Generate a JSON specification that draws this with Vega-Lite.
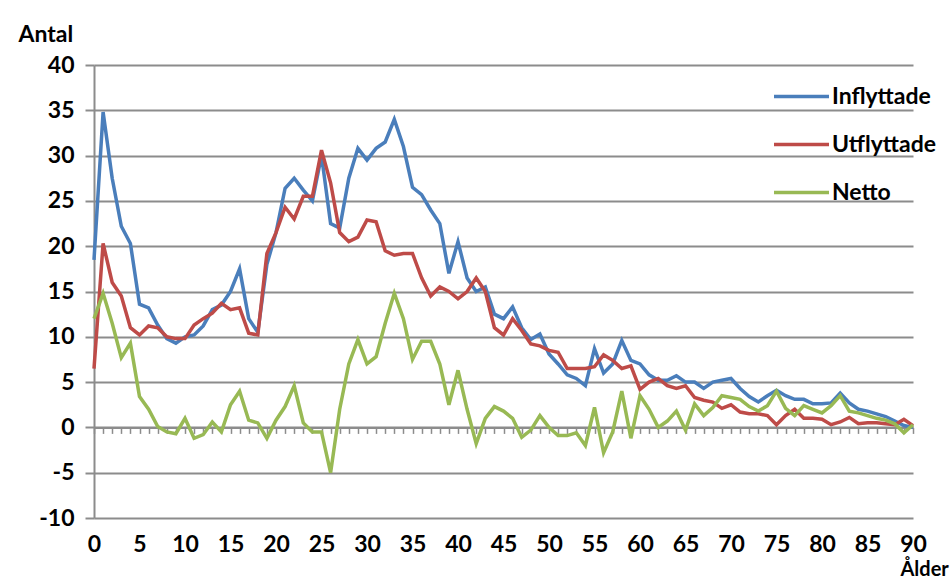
{
  "$schema": "https://vega.github.io/schema/vega-lite/v6.json",
  "width": 819,
  "height": 453,
  "autosize": "none",
  "padding": {"left": 94, "top": 65, "right": 39, "bottom": 64},
  "background": "white",
  "data": {"values": [
    {"a":0,"Inflyttade":18.5,"Utflyttade":6.5,"Netto":12},
    {"a":1,"Inflyttade":34.8,"Utflyttade":20.3,"Netto":14.8},
    {"a":2,"Inflyttade":27.5,"Utflyttade":16,"Netto":11.5},
    {"a":3,"Inflyttade":22.2,"Utflyttade":14.5,"Netto":7.7},
    {"a":4,"Inflyttade":20.3,"Utflyttade":11,"Netto":9.3},
    {"a":5,"Inflyttade":13.6,"Utflyttade":10.2,"Netto":3.4},
    {"a":6,"Inflyttade":13.2,"Utflyttade":11.2,"Netto":2},
    {"a":7,"Inflyttade":11.3,"Utflyttade":11,"Netto":0.1},
    {"a":8,"Inflyttade":9.8,"Utflyttade":10,"Netto":-0.5},
    {"a":9,"Inflyttade":9.3,"Utflyttade":9.8,"Netto":-0.7},
    {"a":10,"Inflyttade":10,"Utflyttade":9.8,"Netto":1},
    {"a":11,"Inflyttade":10.2,"Utflyttade":11.3,"Netto":-1.2},
    {"a":12,"Inflyttade":11.2,"Utflyttade":12,"Netto":-0.8},
    {"a":13,"Inflyttade":13,"Utflyttade":12.6,"Netto":0.6},
    {"a":14,"Inflyttade":13.5,"Utflyttade":13.7,"Netto":-0.5},
    {"a":15,"Inflyttade":15,"Utflyttade":13,"Netto":2.5},
    {"a":16,"Inflyttade":17.5,"Utflyttade":13.2,"Netto":4},
    {"a":17,"Inflyttade":12,"Utflyttade":10.4,"Netto":0.8},
    {"a":18,"Inflyttade":10.5,"Utflyttade":10.2,"Netto":0.5},
    {"a":19,"Inflyttade":18,"Utflyttade":19.2,"Netto":-1.2},
    {"a":20,"Inflyttade":21.5,"Utflyttade":21.5,"Netto":0.8},
    {"a":21,"Inflyttade":26.4,"Utflyttade":24.3,"Netto":2.3},
    {"a":22,"Inflyttade":27.5,"Utflyttade":23,"Netto":4.6},
    {"a":23,"Inflyttade":26.2,"Utflyttade":25.5,"Netto":0.5},
    {"a":24,"Inflyttade":25,"Utflyttade":25.5,"Netto":-0.5},
    {"a":25,"Inflyttade":30,"Utflyttade":30.6,"Netto":-0.5},
    {"a":26,"Inflyttade":22.5,"Utflyttade":27,"Netto":-5},
    {"a":27,"Inflyttade":22,"Utflyttade":21.5,"Netto":2},
    {"a":28,"Inflyttade":27.5,"Utflyttade":20.5,"Netto":7},
    {"a":29,"Inflyttade":30.8,"Utflyttade":21,"Netto":9.7},
    {"a":30,"Inflyttade":29.5,"Utflyttade":22.9,"Netto":7},
    {"a":31,"Inflyttade":30.8,"Utflyttade":22.7,"Netto":7.8},
    {"a":32,"Inflyttade":31.5,"Utflyttade":19.5,"Netto":11.5},
    {"a":33,"Inflyttade":34,"Utflyttade":19,"Netto":14.8},
    {"a":34,"Inflyttade":31,"Utflyttade":19.2,"Netto":12},
    {"a":35,"Inflyttade":26.5,"Utflyttade":19.2,"Netto":7.5},
    {"a":36,"Inflyttade":25.7,"Utflyttade":16.5,"Netto":9.5},
    {"a":37,"Inflyttade":24,"Utflyttade":14.5,"Netto":9.5},
    {"a":38,"Inflyttade":22.5,"Utflyttade":15.5,"Netto":7},
    {"a":39,"Inflyttade":17,"Utflyttade":15,"Netto":2.5},
    {"a":40,"Inflyttade":20.5,"Utflyttade":14.2,"Netto":6.3},
    {"a":41,"Inflyttade":16.5,"Utflyttade":15,"Netto":2},
    {"a":42,"Inflyttade":15,"Utflyttade":16.5,"Netto":-1.8},
    {"a":43,"Inflyttade":15.5,"Utflyttade":15,"Netto":1},
    {"a":44,"Inflyttade":12.5,"Utflyttade":11,"Netto":2.3},
    {"a":45,"Inflyttade":12,"Utflyttade":10.2,"Netto":1.8},
    {"a":46,"Inflyttade":13.3,"Utflyttade":12,"Netto":1},
    {"a":47,"Inflyttade":11,"Utflyttade":10.7,"Netto":-1.1},
    {"a":48,"Inflyttade":9.7,"Utflyttade":9.2,"Netto":-0.3},
    {"a":49,"Inflyttade":10.3,"Utflyttade":9,"Netto":1.3},
    {"a":50,"Inflyttade":8.1,"Utflyttade":8.5,"Netto":0},
    {"a":51,"Inflyttade":7,"Utflyttade":8.3,"Netto":-0.9},
    {"a":52,"Inflyttade":5.8,"Utflyttade":6.5,"Netto":-0.9},
    {"a":53,"Inflyttade":5.4,"Utflyttade":6.5,"Netto":-0.6},
    {"a":54,"Inflyttade":4.6,"Utflyttade":6.5,"Netto":-2},
    {"a":55,"Inflyttade":8.7,"Utflyttade":6.7,"Netto":2.2},
    {"a":56,"Inflyttade":6,"Utflyttade":8,"Netto":-2.8},
    {"a":57,"Inflyttade":7,"Utflyttade":7.4,"Netto":-0.5},
    {"a":58,"Inflyttade":9.6,"Utflyttade":6.5,"Netto":4},
    {"a":59,"Inflyttade":7.4,"Utflyttade":6.8,"Netto":-1.2},
    {"a":60,"Inflyttade":7,"Utflyttade":4.2,"Netto":3.5},
    {"a":61,"Inflyttade":5.8,"Utflyttade":5,"Netto":2},
    {"a":62,"Inflyttade":5.2,"Utflyttade":5.4,"Netto":0},
    {"a":63,"Inflyttade":5.2,"Utflyttade":4.6,"Netto":0.7},
    {"a":64,"Inflyttade":5.7,"Utflyttade":4.3,"Netto":1.8},
    {"a":65,"Inflyttade":5,"Utflyttade":4.6,"Netto":-0.3},
    {"a":66,"Inflyttade":5,"Utflyttade":3.3,"Netto":2.6},
    {"a":67,"Inflyttade":4.3,"Utflyttade":3,"Netto":1.3},
    {"a":68,"Inflyttade":5,"Utflyttade":2.8,"Netto":2.2},
    {"a":69,"Inflyttade":5.2,"Utflyttade":2.1,"Netto":3.5},
    {"a":70,"Inflyttade":5.4,"Utflyttade":2.5,"Netto":3.3},
    {"a":71,"Inflyttade":4.3,"Utflyttade":1.7,"Netto":3.1},
    {"a":72,"Inflyttade":3.4,"Utflyttade":1.5,"Netto":2.3},
    {"a":73,"Inflyttade":2.8,"Utflyttade":1.5,"Netto":1.8},
    {"a":74,"Inflyttade":3.5,"Utflyttade":1.3,"Netto":2.4},
    {"a":75,"Inflyttade":4.1,"Utflyttade":0.3,"Netto":4},
    {"a":76,"Inflyttade":3.5,"Utflyttade":1.3,"Netto":2.1},
    {"a":77,"Inflyttade":3.1,"Utflyttade":2,"Netto":1.3},
    {"a":78,"Inflyttade":3.1,"Utflyttade":1,"Netto":2.4},
    {"a":79,"Inflyttade":2.6,"Utflyttade":1,"Netto":2},
    {"a":80,"Inflyttade":2.6,"Utflyttade":0.9,"Netto":1.6},
    {"a":81,"Inflyttade":2.7,"Utflyttade":0.3,"Netto":2.4},
    {"a":82,"Inflyttade":3.8,"Utflyttade":0.6,"Netto":3.5},
    {"a":83,"Inflyttade":2.7,"Utflyttade":1.1,"Netto":1.8},
    {"a":84,"Inflyttade":2,"Utflyttade":0.4,"Netto":1.6},
    {"a":85,"Inflyttade":1.8,"Utflyttade":0.5,"Netto":1.3},
    {"a":86,"Inflyttade":1.5,"Utflyttade":0.5,"Netto":1},
    {"a":87,"Inflyttade":1.2,"Utflyttade":0.4,"Netto":0.8},
    {"a":88,"Inflyttade":0.7,"Utflyttade":0.3,"Netto":0.4},
    {"a":89,"Inflyttade":0.2,"Utflyttade":0.9,"Netto":-0.6},
    {"a":90,"Inflyttade":0,"Utflyttade":0.2,"Netto":0.3}
  ]},
  "transform": [{"fold": ["Inflyttade", "Utflyttade", "Netto"], "as": ["serie", "antal"]}],
  "mark": {"type": "line", "strokeWidth": 3.5, "clip": false},
  "encoding": {
    "x": {
      "field": "a", "type": "quantitative",
      "scale": {"domain": [0, 90], "nice": false, "zero": false},
      "axis": {
        "values": [0,1,2,3,4,5,6,7,8,9,10,11,12,13,14,15,16,17,18,19,20,21,22,23,24,25,26,27,28,29,30,31,32,33,34,35,36,37,38,39,40,41,42,43,44,45,46,47,48,49,50,51,52,53,54,55,56,57,58,59,60,61,62,63,64,65,66,67,68,69,70,71,72,73,74,75,76,77,78,79,80,81,82,83,84,85,86,87,88,89,90],
        "offset": -90.6,
        "grid": false,
        "domainColor": "#8c8c8c", "domainWidth": 2,
        "tickColor": "#8c8c8c", "tickWidth": 1.5, "tickSize": 6,
        "labelExpr": "datum.value % 5 === 0 ? datum.label : ''",
        "labelPadding": 100, "labelFontSize": 23, "labelFontWeight": "bold", "labelColor": "#000000",
        "labelFlush": false, "labelOverlap": false, "labelBaseline": "top",
        "title": "Ålder", "titleX": 806, "titleY": 148, "titleAlign": "left", "titleBaseline": "alphabetic",
        "titleFontSize": 20, "titleFontWeight": "bold", "titleColor": "#000000"
      }
    },
    "y": {
      "field": "antal", "type": "quantitative",
      "scale": {"domain": [-10, 40], "nice": false, "zero": false},
      "axis": {
        "values": [-10, -5, 0, 5, 10, 15, 20, 25, 30, 35, 40],
        "labelExpr": "datum.value < 0 ? '-' + abs(datum.value) : datum.label",
        "grid": true, "gridColor": "#8c8c8c", "gridWidth": 2,
        "domainColor": "#8c8c8c", "domainWidth": 2,
        "tickColor": "#8c8c8c", "tickWidth": 2, "tickSize": 9,
        "labelPadding": 11, "labelFontSize": 23, "labelFontWeight": "bold", "labelColor": "#000000",
        "title": "Antal", "titleAngle": 0, "titleX": -76, "titleY": -24, "titleAlign": "left", "titleBaseline": "alphabetic",
        "titleFontSize": 23, "titleFontWeight": "bold", "titleColor": "#000000"
      }
    },
    "color": {
      "field": "serie", "type": "nominal",
      "scale": {"domain": ["Inflyttade", "Utflyttade", "Netto"], "range": ["#4a7ebb", "#be4b48", "#98b954"]},
      "legend": {
        "title": null, "orient": "none", "legendX": 678, "legendY": 2,
        "symbolType": "stroke", "symbolSize": 3025, "symbolStrokeWidth": 3.5,
        "labelFontSize": 23, "labelFontWeight": "bold", "labelColor": "#000000", "labelOffset": 1,
        "rowPadding": 6
      }
    }
  },
  "config": {"view": {"stroke": null}, "font": "Lato"}
}
